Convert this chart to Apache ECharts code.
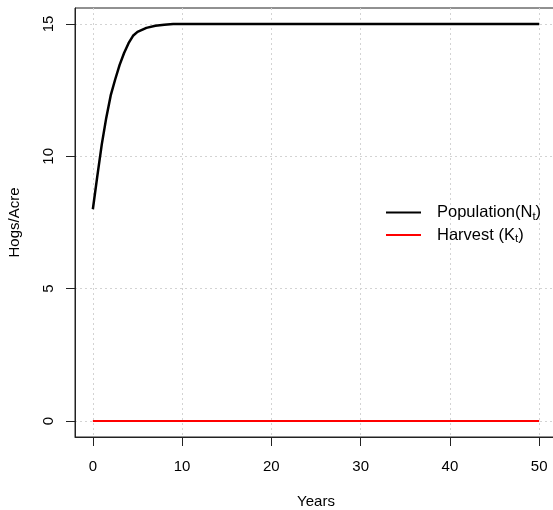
<!DOCTYPE html>
<html>
<head>
<meta charset="utf-8">
<script src="https://cdn.jsdelivr.net/npm/echarts@6/dist/echarts.min.js"></script>
<style>html,body{margin:0;padding:0;background:#fff}#c{width:553px;height:510px}</style>
</head>
<body>
<div id="c"></div>
<script>
// Data
var popYears  = [0, 0.5, 1, 1.5, 2, 2.5, 3, 3.5, 4, 4.5, 5, 6, 7, 8, 9, 10, 20, 30, 40, 50];
var popValues = [8.0, 9.25, 10.45, 11.45, 12.3, 12.9, 13.45, 13.9, 14.27, 14.55, 14.7, 14.85, 14.93, 14.97, 15.0, 15.0, 15.0, 15.0, 15.0, 15.0];
var harvestYears  = [0, 50];
var harvestValues = [0, 0];
var xTicks = [0, 10, 20, 30, 40, 50];
var yTicks = [0, 5, 10, 15];
var seriesNames = ['Population', 'Harvest'];

function pairs(xs, ys) { return xs.map(function (x, i) { return [x, ys[i]]; }); }

var font = 'Liberation Sans, Arial, sans-serif';
var chart = echarts.init(document.getElementById('c'), null, { renderer: 'canvas' });
chart.setOption({
  animation: false,
  backgroundColor: '#fff',
  textStyle: { fontFamily: font },
  grid: { left: 75, width: 482, top: 8, height: 429, show: true, borderColor: '#222', borderWidth: 1,
          containLabel: false, outerBoundsMode: 'none' },
  legend: {
    orient: 'vertical', left: 385, top: 204, padding: 0,
    itemWidth: 35, itemHeight: 14, itemGap: 4,
    data: seriesNames,
    itemStyle: { opacity: 0 },
    formatter: function (n) { return n === 'Population' ? 'Population(N{sub|t})' : 'Harvest (K{sub|t})'; },
    textStyle: {
      fontFamily: font, fontSize: 16.5, color: '#000', padding: [0, 0, 0, 11],
      rich: { sub: { fontFamily: font, fontSize: 11.5, color: '#000', padding: [8, 0, 0, 0] } }
    }
  },
  xAxis: {
    type: 'value', min: -2, max: 52,
    name: 'Years', nameLocation: 'middle', nameGap: 57,
    nameTextStyle: { fontFamily: font, fontSize: 15, color: '#000' },
    axisLine: { show: true, onZero: false, lineStyle: { color: '#222', width: 1 } },
    axisTick: { show: true, inside: false, length: 9, customValues: xTicks, lineStyle: { color: '#222' } },
    axisLabel: { customValues: xTicks, margin: 22, fontFamily: font, fontSize: 15, color: '#000' },
    splitLine: { show: true, lineStyle: { color: '#d3d3d3', type: [2, 3], width: 1 } }
  },
  yAxis: {
    type: 'value', min: -0.6, max: 15.6,
    name: 'Hogs/Acre', nameLocation: 'middle', nameGap: 53, nameRotate: 90,
    nameTextStyle: { fontFamily: font, fontSize: 15, color: '#000' },
    axisLine: { show: true, onZero: false, lineStyle: { color: '#222', width: 1 } },
    axisTick: { show: true, inside: false, length: 9, customValues: yTicks, lineStyle: { color: '#222' } },
    axisLabel: { customValues: yTicks, margin: 19, rotate: 90, fontFamily: font, fontSize: 15, color: '#000' },
    splitLine: { show: true, lineStyle: { color: '#d3d3d3', type: [2, 3], width: 1 } }
  },
  series: [
    {
      name: seriesNames[0], type: 'line', data: pairs(popYears, popValues),
      showSymbol: false, symbol: 'none', smooth: false,
      lineStyle: { color: '#000', width: 2.5 }, itemStyle: { color: '#000' }
    },
    {
      name: seriesNames[1], type: 'line', data: pairs(harvestYears, harvestValues),
      showSymbol: false, symbol: 'none',
      lineStyle: { color: '#ff0000', width: 2 }, itemStyle: { color: '#ff0000' }
    }
  ]
});
</script>
</body>
</html>
